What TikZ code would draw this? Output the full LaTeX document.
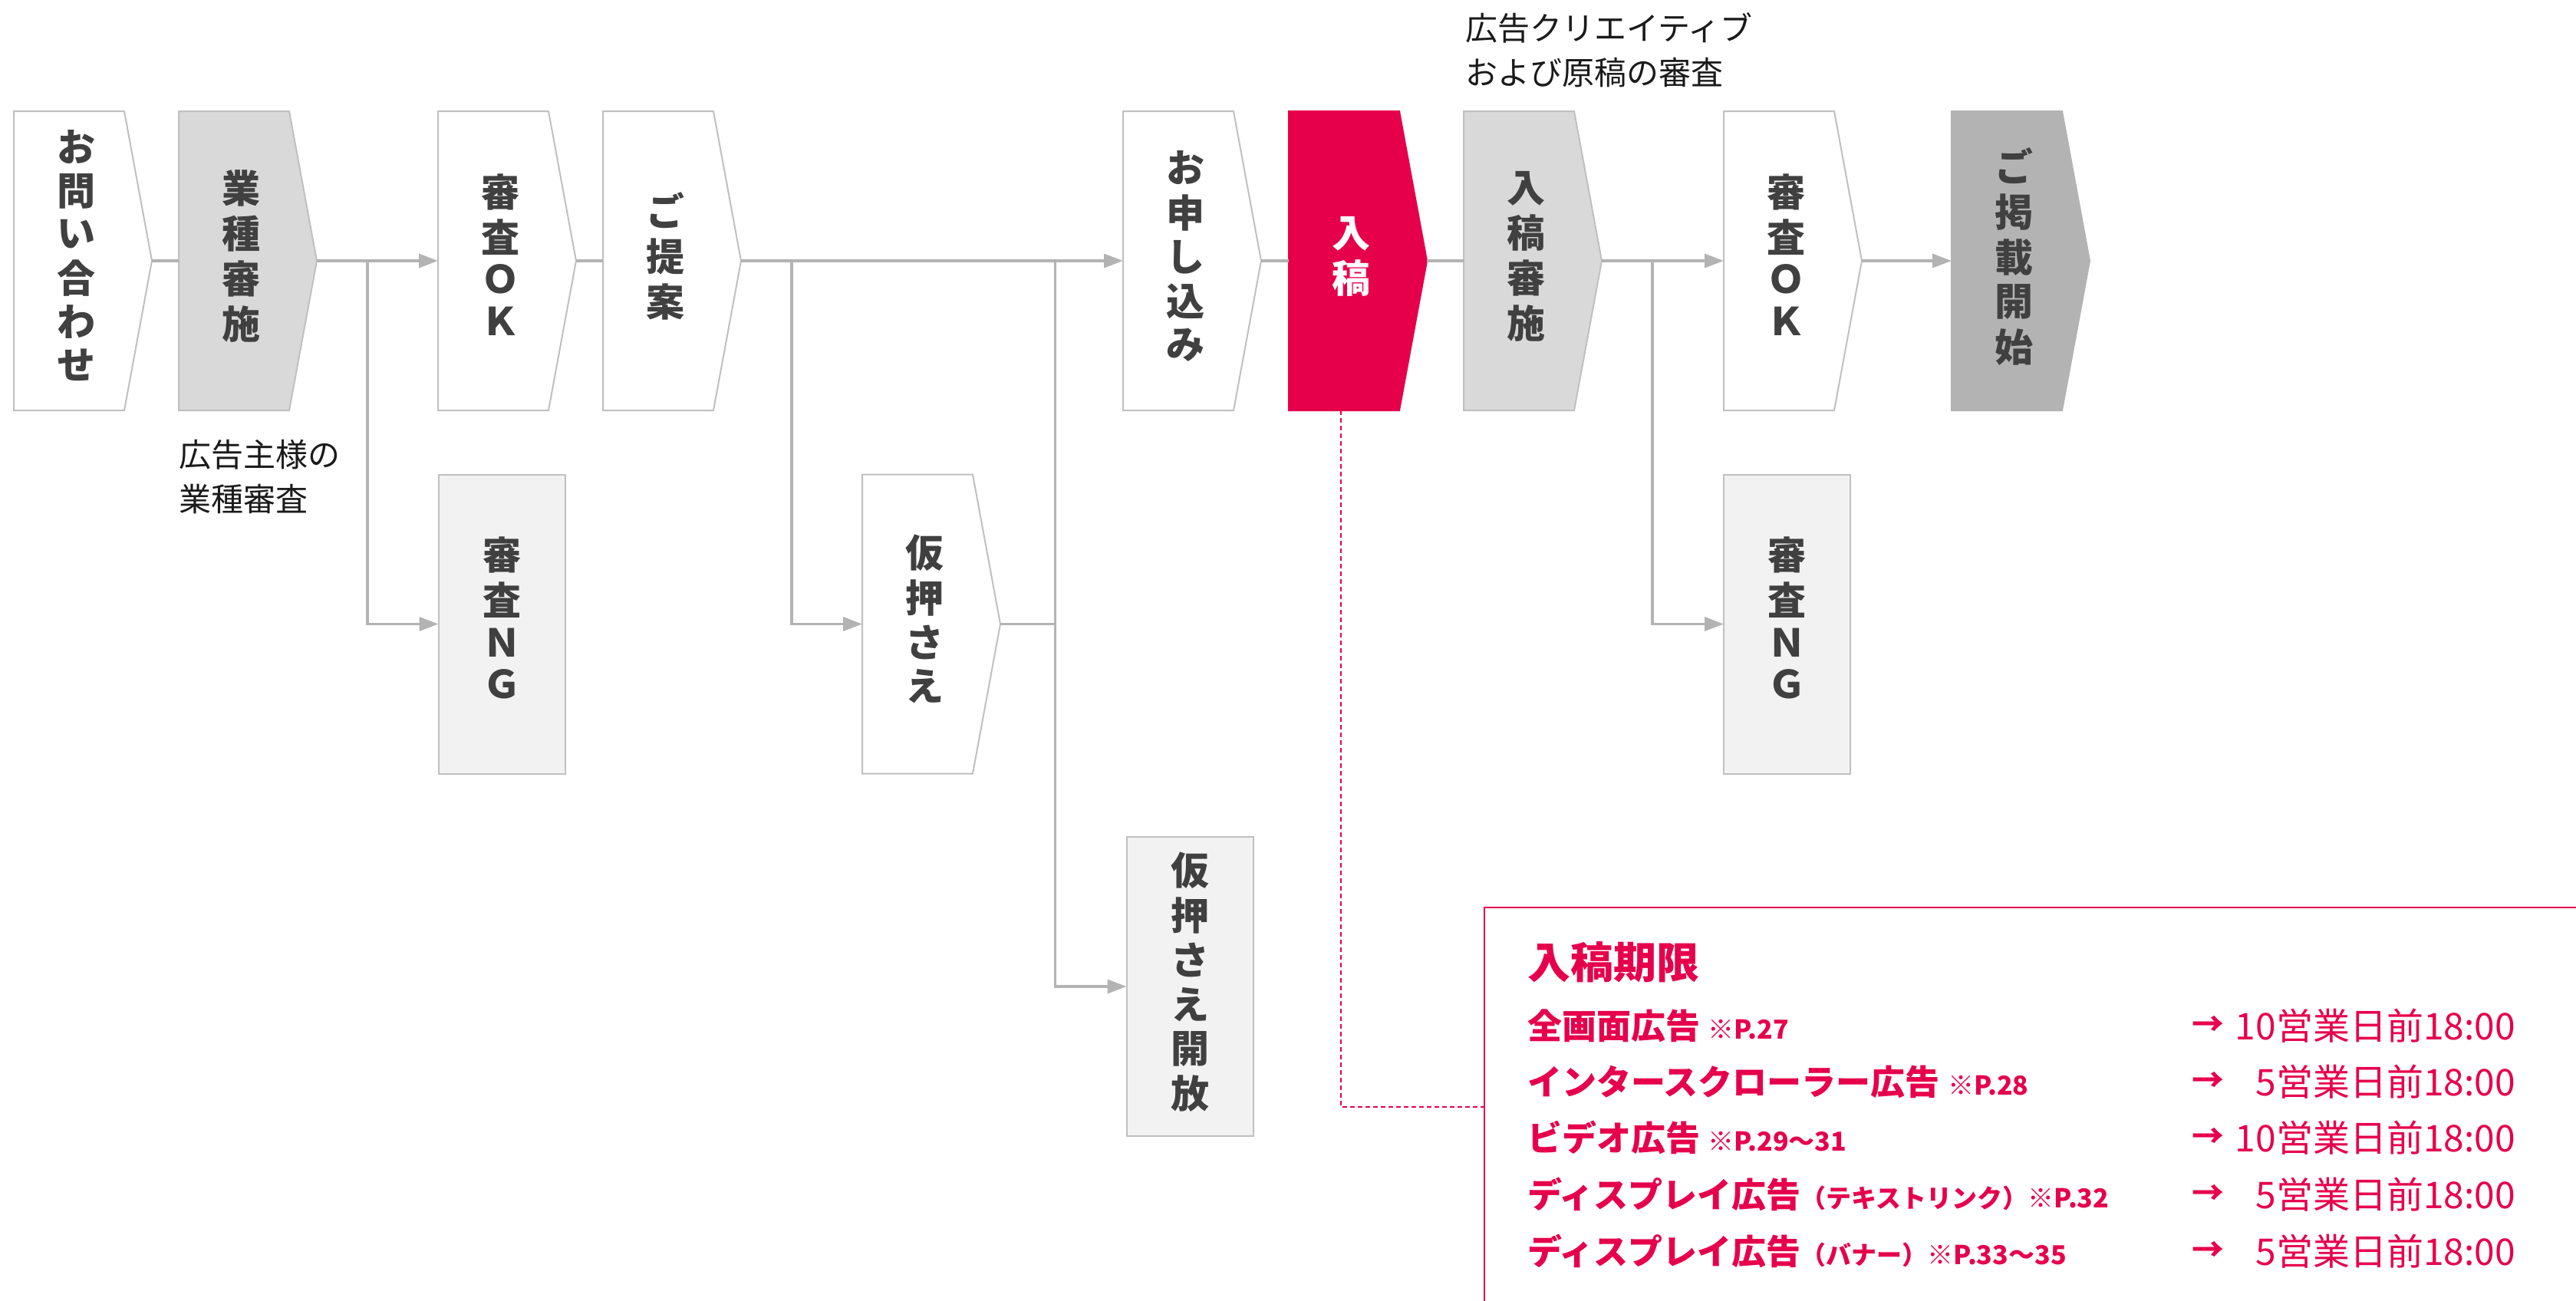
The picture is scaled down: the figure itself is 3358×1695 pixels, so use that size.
\documentclass[tikz,border=0pt]{standalone}
\usepackage{fontspec}
\setmainfont{Noto Sans CJK JP}
\usetikzlibrary{arrows.meta}
\definecolor{boxtext}{HTML}{404040}
\definecolor{linegray}{HTML}{B3B3B3}
\definecolor{bordergray}{HTML}{C0C0C0}
\definecolor{fillmid}{HTML}{D9D9D9}
\definecolor{filllight}{HTML}{F2F2F2}
\definecolor{filldark}{HTML}{B3B3B3}
\definecolor{brandred}{HTML}{E6004C}
\definecolor{notetext}{HTML}{1A1A1A}
\pgfdeclarelayer{bg}
\pgfsetlayers{bg,main}
\newcommand\vtext[1]{\fontsize{50}{54.5}\selectfont\bfseries\begin{tabular}{@{}c@{}}#1\end{tabular}}
\newcommand\vchev[1]{\hspace*{-18pt}\vtext{#1}}
\newcommand\chevshape[2]{\begin{pgfonlayer}{bg}\draw[chevline,#1] (#2.north west) -- ([xshift=-36pt]#2.north east) -- (#2.east) -- ([xshift=-36pt]#2.south east) -- (#2.south west) -- cycle;\end{pgfonlayer}}
\tikzset{
  stage/.style={inner sep=0pt, outer sep=0pt, minimum width=180pt, minimum height=390pt, text=boxtext},
  chevline/.style={draw=bordergray, line width=2pt, line join=miter},
  ngbox/.style={inner sep=0pt, outer sep=0pt, minimum width=165pt, minimum height=390pt, text=boxtext, draw=bordergray, fill=filllight, line width=2pt},
  conn/.style={draw=linegray, line width=3.5pt},
  arr/.style={conn, -{Triangle[length=25pt,width=18pt]}},
  note/.style={inner sep=0pt, outer sep=0pt, text=notetext, align=left, font=\fontsize{42}{58}\selectfont},
  dltext/.style={inner sep=0pt, outer sep=0pt, text=brandred},
}
\begin{document}
\begin{tikzpicture}[x=1pt,y=-1pt]
\useasboundingbox (0,0) rectangle (3358,1695);
% main row
\node[stage] (inq) at (108,340) {\vchev{お\\問\\い\\合\\わ\\せ}};
\node[stage] (ind) at (323,340) {\vchev{業\\種\\審\\施}};
\node[stage] (ok1) at (661,340) {\vchev{審\\査\\Ｏ\\Ｋ}};
\node[stage] (prop) at (876,340) {\vchev{ご\\提\\案}};
\node[stage] (apply) at (1554,340) {\vchev{お\\申\\し\\込\\み}};
\node[stage, text=white] (sub) at (1770,340) {\vchev{入\\稿}};
\node[stage] (subrev) at (1998,340) {\vchev{入\\稿\\審\\施}};
\node[stage] (ok2) at (2337,340) {\vchev{審\\査\\Ｏ\\Ｋ}};
\node[stage] (start) at (2634,340) {\vchev{ご\\掲\\載\\開\\始}};
% second row
\node[ngbox] (ng1) at (654,813.5) {\vtext{審\\査\\Ｎ\\Ｇ}};
\node[stage] (hold) at (1214,813.5) {\vchev{仮\\押\\さ\\え}};
\node[ngbox] (ng2) at (2329.5,813.5) {\vtext{審\\査\\Ｎ\\Ｇ}};
% third row
\node[ngbox] (release) at (1551,1286) {\vtext{仮\\押\\さ\\え\\開\\放}};
% chevron outlines
\chevshape{fill=white}{inq}
\chevshape{fill=fillmid}{ind}
\chevshape{fill=white}{ok1}
\chevshape{fill=white}{prop}
\chevshape{fill=white}{apply}
\chevshape{fill=brandred, draw=brandred}{sub}
\chevshape{fill=fillmid}{subrev}
\chevshape{fill=white}{ok2}
\chevshape{fill=filldark, draw=filldark}{start}
\chevshape{fill=white}{hold}
% notes
\node[note, anchor=north west] (note1) at (233,573) {広告主様の\\業種審査};
\node[note, anchor=north west] (note2) at (1910,17) {広告クリエイティブ\\および原稿の審査};
% junctions
\coordinate (j1) at (479,340);
\coordinate (j2) at (1032,340);
\coordinate (j3) at (1375.5,340);
\coordinate (j4) at (2154,340);
% connectors
\draw[conn] (inq.east) -- (ind.west);
\draw[arr] (ind.east) -- (ok1.west);
\draw[arr] (j1) |- (ng1.west);
\draw[conn] (ok1.east) -- (prop.west);
\draw[arr] (prop.east) -- (apply.west);
\draw[arr] (j2) |- (hold.west);
\draw[conn] (hold.east) -- (hold.east -| j3);
\draw[arr] (j3) |- (release.west);
\draw[conn] (apply.east) -- (sub.west);
\draw[conn] (sub.east) -- (subrev.west);
\draw[arr] (subrev.east) -- (ok2.west);
\draw[arr] (j4) |- (ng2.west);
\draw[arr] (ok2.east) -- (start.west);
% deadline box
\node[draw=brandred, line width=1.8pt, inner sep=0pt, outer sep=0pt, minimum width=1450pt, minimum height=520pt] (dl) at (2660,1443) {};
\draw[brandred, line width=1.5pt, dash pattern=on 6pt off 4pt] ([xshift=68pt]sub.south west) |- (dl.west);
\node[dltext, anchor=west, font=\fontsize{56}{60}\selectfont\bfseries] (dltitle) at (1991,1254) {入稿期限};
\newcommand\refsz[1]{{\fontsize{34}{36}\selectfont #1}}
\newcommand\parsz[1]{{\fontsize{33}{36}\selectfont #1}}
\tikzset{lab/.style={dltext, anchor=base west, font=\fontsize{45}{50}\selectfont\bfseries},
         tarr/.style={dltext, anchor=base west, font=\fontsize{42}{50}\selectfont\bfseries},
         tim/.style={dltext, anchor=base east, font=\fontsize{48}{50}\selectfont}}
\node[lab] (r1) at (1991,1354) {全画面広告 \refsz{※P.27}};
\node[lab] (r2) at (1991,1427) {インタースクローラー広告 \refsz{※P.28}};
\node[lab] (r3) at (1991,1500) {ビデオ広告 \refsz{※P.29〜31}};
\node[lab] (r4) at (1991,1574) {ディスプレイ広告\parsz{（テキストリンク）}\refsz{※P.32}};
\node[lab] (r5) at (1991,1648) {ディスプレイ広告\parsz{（バナー）}\refsz{※P.33〜35}};
\node[tarr] (a1) at (2857,1350) {→};
\node[tarr] (a2) at (2857,1423) {→};
\node[tarr] (a3) at (2857,1496) {→};
\node[tarr] (a4) at (2857,1570) {→};
\node[tarr] (a5) at (2857,1644) {→};
\node[tim] (t1) at (3279,1355) {10営業日前18:00};
\node[tim] (t2) at (3279,1428) {5営業日前18:00};
\node[tim] (t3) at (3279,1501) {10営業日前18:00};
\node[tim] (t4) at (3279,1575) {5営業日前18:00};
\node[tim] (t5) at (3279,1649) {5営業日前18:00};
\end{tikzpicture}
\end{document}
